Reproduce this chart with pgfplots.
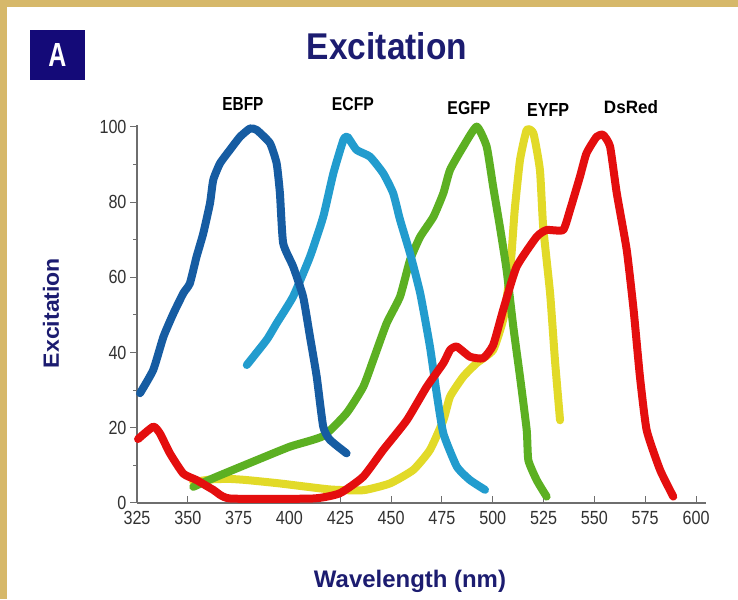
\documentclass[border=0pt]{standalone}
\usepackage{pgfplots}
\pgfplotsset{compat=1.18}
\usepackage{fontspec}
\setmainfont{Liberation Sans}
\newfontfamily\condfont{Liberation Sans}[FakeStretch=0.85]
\definecolor{tan}{RGB}{214,184,106}
\definecolor{navy}{RGB}{28,28,112}
\definecolor{boxnavy}{RGB}{20,10,120}
\definecolor{tickgray}{RGB}{50,50,50}
\definecolor{axgray}{RGB}{110,110,110}
\definecolor{cEBFP}{RGB}{22,92,162}
\definecolor{cECFP}{RGB}{34,156,206}
\definecolor{cEGFP}{RGB}{92,176,34}
\definecolor{cEYFP}{RGB}{226,218,40}
\definecolor{cRed}{RGB}{228,14,14}
\begin{document}
\begin{tikzpicture}[x=1pt,y=1pt]
\useasboundingbox (0,0) rectangle (738,599);
\fill[white] (0,0) rectangle (738,599);
\fill[tan] (0,592) rectangle (738,599);
\fill[tan] (0,0) rectangle (7,599);
% A box
\fill[boxnavy] (30,599-80) rectangle (85,599-30);
\node[text=white] at (57.5,599-55) {\resizebox{18pt}{23pt}{\bfseries A}};
% title
\node[anchor=base,text=navy] at (387,599-60) {\resizebox{160pt}{27pt}{\bfseries Excitation}};
% y label
\node[rotate=90,text=navy] at (51,599-313) {\resizebox{110pt}{16pt}{\bfseries Excitation}};
% x label
\node[anchor=base,text=navy] at (410,599-587) {\resizebox{192pt}{!}{\bfseries Wavelength (nm)}};
\begin{axis}[
  at={(137pt,96pt)}, anchor=south west,
  scale only axis, width=569.2pt, height=377.9pt,
  xmin=325, xmax=605, ymin=0, ymax=100.5,
  axis x line=bottom, axis y line=left,
  axis line style={-, draw=axgray, line width=1.2pt},
  xtick={325,350,...,600}, ytick={0,20,...,100},
  minor ytick={10,30,...,90},
  xtick align=inside, ytick align=outside,
  major tick length=7pt, minor tick length=4pt,
  tick style={draw=axgray, line width=1pt},
  /pgf/number format/assume math mode=true,
  ticklabel style={font=\condfont\fontsize{19}{19}\selectfont, text=tickgray},
  xticklabel style={yshift=-5pt},
  clip=false,
  every axis plot/.append style={line width=8pt, line join=round, line cap=round, smooth, tension=0.3},
]
\addplot[cEYFP] coordinates {
(352.7,5.6) (362,6.3) (370.7,6.4) (379,6.1) (395.3,5.2) (420,3.6) (436.3,3.4) (449.4,5.2) (460.9,8.8) (469.1,14.1) (475.7,22) (479,28.3) (485.5,33.6) (492.1,37.2) (500.2,40.7) (505.1,48.7) (507.5,57) (509.2,66) (510.8,77.9) (513.4,91.2) (516.7,99.2) (520,98.3) (523.2,88.6) (524.8,73.5) (528.2,55.8) (530.6,38) (533.1,22)};
\addplot[cEGFP] coordinates {
(352.7,4.3) (364.2,7) (383.9,11.4) (400.3,15) (416.6,17.8) (428.1,23.9) (436.3,30.9) (441.2,38) (447.8,47.8) (454.4,54.9) (459.3,64.6) (464.3,70.8) (470.8,76.1) (475.7,82.4) (479,88.6) (485.5,94.8) (492.1,100.1) (497,94.8) (500.2,84.1) (503.5,73.5) (506.8,62) (510.1,46.9) (513.4,33.6) (516.7,19.4) (517.5,11.4) (521.6,6.1) (526.5,1.7)};
\addplot[cECFP] coordinates {
(379,36.7) (388.8,43.4) (393.7,47.8) (401.8,54.9) (410.1,65.5) (416.6,76.1) (421.6,87.7) (426.5,96.5) (428.5,97.4) (433,93.9) (439.6,92.1) (446.1,87.7) (451,82.4) (454.4,75.3) (459.3,66.4) (464.3,55.8) (469.1,41.6) (472.4,29.2) (475.7,18.5) (482.3,9.7) (488.8,6.1) (496.2,3.5)};
\addplot[cEBFP] coordinates {
(326.5,29.2) (333,35.4) (338,44.2) (342.9,50.4) (347.8,55.8) (351,58.4) (354.3,65.5) (357.6,71.7) (360.9,79.7) (362.5,85.9) (365.8,90.3) (370.7,93.9) (375.7,97.4) (380.6,99.6) (383.9,99.2) (390.4,95.7) (393.7,90.3) (395.3,82.4) (396.9,69.1) (401.8,62.9) (406.7,54.9) (410.1,44.2) (413.4,33.6) (416.6,20.3) (419.9,16.8) (428.1,13.2)};
\addplot[cRed] coordinates {
(325.5,17) (333,20.3) (336.3,18.5) (341.2,13.2) (347.8,7.8) (354.3,6.1) (362.5,3.5) (370.7,1.2) (411.7,1.2) (424.8,2.6) (436.3,7) (446.1,14.1) (457.7,22) (467.5,30.9) (475.7,37.2) (479,40.7) (482.3,41.6) (488.8,38.9) (495.3,38.5) (500.2,42) (505.1,51.3) (511.7,62.8) (521.6,70.8) (526.5,72.6) (534.6,72.6) (538,77.9) (542.9,86.8) (546.1,93) (551.1,97.4) (554.3,97.9) (557.7,94.8) (561,82.4) (565.9,67.3) (569.3,51.3) (572.4,33.6) (575.7,19.4) (582.3,8.8) (588.8,1.7)};
\node[anchor=base] at (axis cs:377.1,104.5) {\resizebox{41pt}{13pt}{\bfseries EBFP}};
\node[anchor=base] at (axis cs:431.2,104.5) {\resizebox{42pt}{13pt}{\bfseries ECFP}};
\node[anchor=base] at (axis cs:488.3,103.2) {\resizebox{43pt}{13pt}{\bfseries EGFP}};
\node[anchor=base] at (axis cs:527.2,102.7) {\resizebox{42pt}{13pt}{\bfseries EYFP}};
\node[anchor=base] at (axis cs:568,103.7) {\resizebox{54pt}{13pt}{\bfseries DsRed}};
\end{axis}
\end{tikzpicture}
\end{document}
